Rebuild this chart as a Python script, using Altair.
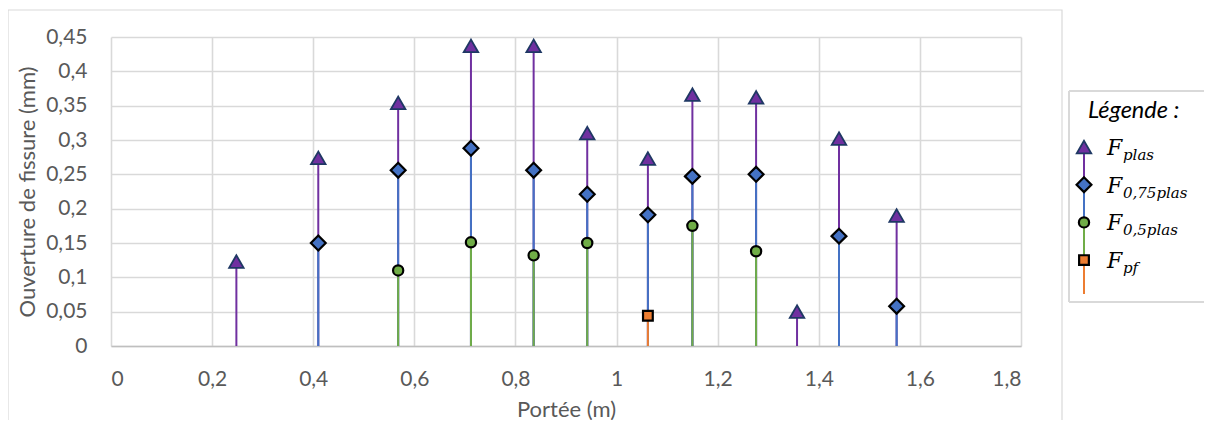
import altair as alt
import pandas as pd

# ---------------- data ----------------
x_plas = [0.248, 0.41, 0.568, 0.712, 0.836, 0.942, 1.062, 1.15, 1.276, 1.357, 1.44, 1.554]
F_plas = [0.123, 0.274, 0.354, 0.437, 0.437, 0.31, 0.273, 0.366, 0.362, 0.05, 0.302, 0.19]

x_075 = [0.41, 0.568, 0.712, 0.836, 0.942, 1.062, 1.15, 1.276, 1.44, 1.554]
F_075 = [0.15, 0.256, 0.288, 0.256, 0.221, 0.191, 0.247, 0.25, 0.16, 0.058]

x_05 = [0.568, 0.712, 0.836, 0.942, 1.15, 1.276]
F_05 = [0.11, 0.151, 0.132, 0.15, 0.175, 0.138]

x_pf = [1.062]
F_pf = [0.044]

x_ticks = [0, 0.2, 0.4, 0.6, 0.8, 1.0, 1.2, 1.4, 1.6, 1.8]
y_ticks = [0, 0.05, 0.1, 0.15, 0.2, 0.25, 0.3, 0.35, 0.4, 0.45]

series = [
    # name, subscript, xs, ys, shape, fill, stroke, line colour, size, strokeWidth
    ("F_plas", "plas", x_plas, F_plas, "triangle-up", "#7030A0", "#1F3864", "#7030A0", 210, 1.8),
    ("F_075", "0,75plas", x_075, F_075, "diamond", "#4472C4", "#000000", "#4472C4", 220, 2.2),
    ("F_05", "0,5plas", x_05, F_05, "circle", "#70AD47", "#000000", "#70AD47", 105, 2.2),
    ("F_pf", "pf", x_pf, F_pf, "square", "#ED7D31", "#000000", "#ED7D31", 95, 2.2),
]

FONT = "Lato"
GREY = "#595959"
W, H = 910, 309

xscale = alt.Scale(domain=[0, 1.8], nice=False, zero=False)
yscale = alt.Scale(domain=[0, 0.45], nice=False)

label_expr = "replace(format(datum.value, '.2~f'), '.', ',')"

x_axis = alt.Axis(values=x_ticks, labelExpr=label_expr, title="Portée (m)",
                  grid=True, ticks=False, domain=True, domainColor="#BFBFBF",
                  domainWidth=1.5, labelPadding=22, titlePadding=10)
y_axis = alt.Axis(values=y_ticks, labelExpr=label_expr, title="Ouverture de fissure (mm)",
                  grid=True, ticks=False, domain=False, labelPadding=24, titlePadding=6)

layers = []
# stems (error-bar style lines from 0 to value)
for name, sub, xs, ys, shape, fill, stroke, lc, size, sw in series:
    df = pd.DataFrame({"x": xs, "v": ys})
    layers.append(
        alt.Chart(df).mark_rule(color=lc, strokeWidth=2).encode(
            x=alt.X("x:Q", scale=xscale, axis=x_axis),
            y=alt.Y("v:Q", scale=yscale, axis=y_axis),
            y2=alt.datum(0),
        )
    )

# markers
for name, sub, xs, ys, shape, fill, stroke, lc, size, sw in series:
    df = pd.DataFrame({"x": xs, "v": ys})
    layers.append(
        alt.Chart(df).mark_point(shape=shape, filled=True, fill=fill, stroke=stroke,
                                 strokeWidth=sw, size=size, opacity=1, strokeOpacity=1)
        .encode(x=alt.X("x:Q", scale=xscale, axis=x_axis),
                y=alt.Y("v:Q", scale=yscale, axis=y_axis))
    )

one = pd.DataFrame({"a": [0]})

# outer chart border
layers.append(alt.Chart(one).mark_rect(fill=None, stroke="#D9D9D9", strokeWidth=1.2)
              .encode(x=alt.value(-103), x2=alt.value(951), y=alt.value(-27), y2=alt.value(420)))

# legend box (open on the right, it runs off the picture)
LX0, LX1 = 958, 1100
LY0, LY1 = 54, 265
layers.append(alt.Chart(one).mark_rect(fill="white", strokeWidth=0)
              .encode(x=alt.value(LX0), x2=alt.value(LX1), y=alt.value(LY0), y2=alt.value(LY1)))
for (a, b, c, d) in [(LX0, LX1, LY0, LY0), (LX0, LX1, LY1, LY1), (LX0, LX0, LY0, LY1)]:
    layers.append(alt.Chart(one).mark_rule(color="#D9D9D9", strokeWidth=2)
                  .encode(x=alt.value(a), x2=alt.value(b), y=alt.value(c), y2=alt.value(d)))
layers.append(alt.Chart(one).mark_text(text="Légende :", font=FONT, fontSize=23.5, fontStyle="italic",
                                       color="#000000", align="left", baseline="middle")
              .encode(x=alt.value(977), y=alt.value(74)))

SYM_X = 973
for i, (name, sub, xs, ys, shape, fill, stroke, lc, size, sw) in enumerate(series):
    sy = 110 + i * 37.7
    layers.append(alt.Chart(one).mark_rule(color=lc, strokeWidth=2)
                  .encode(x=alt.value(SYM_X), y=alt.value(sy), y2=alt.value(sy + 34)))
    layers.append(alt.Chart(one).mark_point(shape=shape, filled=True, fill=fill, stroke=stroke,
                                            strokeWidth=sw, size=size, opacity=1)
                  .encode(x=alt.value(SYM_X), y=alt.value(sy)))
    layers.append(alt.Chart(one).mark_text(text="F", font="DejaVu Serif", fontSize=22,
                                           fontStyle="italic", color="#000000",
                                           align="left", baseline="middle")
                  .encode(x=alt.value(996), y=alt.value(sy + 1)))
    layers.append(alt.Chart(one).mark_text(text=sub, font="DejaVu Serif", fontSize=15,
                                           fontStyle="italic", color="#000000",
                                           align="left", baseline="middle")
                  .encode(x=alt.value(1012), y=alt.value(sy + 8)))

chart = (
    alt.layer(*layers)
    .properties(width=W, height=H, autosize=alt.AutoSizeParams(type="none"),
                padding={"left": 103, "top": 29, "right": 183, "bottom": 74})
    .configure_view(stroke=None)
    .configure_axis(gridColor="#D9D9D9", gridWidth=1.6, labelFont=FONT, labelFontSize=21,
                    labelColor=GREY, titleFont=FONT, titleFontSize=22, titleColor=GREY,
                    titleFontWeight="normal")
    .configure_axisX(labelBaseline="top")
)

chart.save("out.html", embed_options={"renderer": "svg", "actions": False})
